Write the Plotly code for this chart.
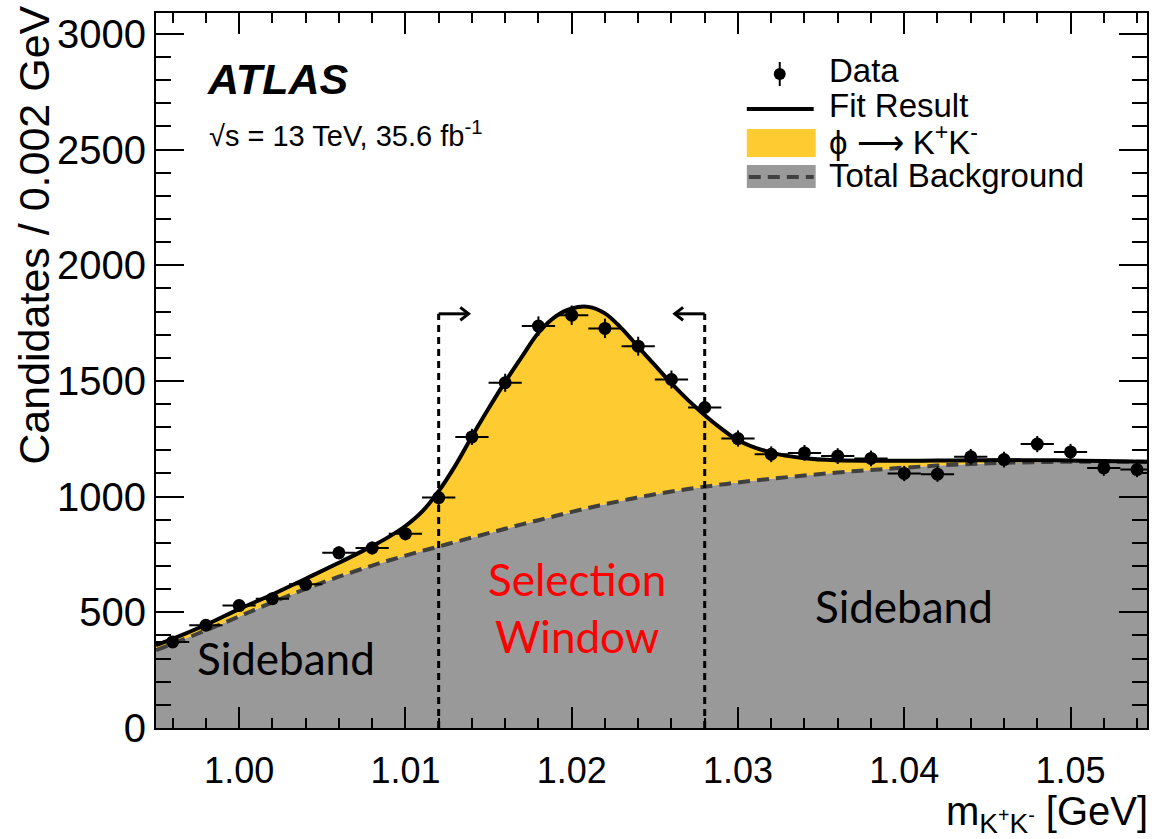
import plotly.graph_objects as go

# ---- measured candidates per 0.002 GeV bin ----
bin_centres = [0.996, 0.998, 1.000, 1.002, 1.004, 1.006, 1.008, 1.010, 1.012, 1.014,
               1.016, 1.018, 1.020, 1.022, 1.024, 1.026, 1.028, 1.030, 1.032, 1.034,
               1.036, 1.038, 1.040, 1.042, 1.044, 1.046, 1.048, 1.050, 1.052, 1.054]
candidates = [372, 444, 529, 559, 621, 757, 778, 840, 996, 1258,
              1492, 1737, 1784, 1727, 1650, 1506, 1385, 1251, 1183, 1189,
              1175, 1165, 1100, 1097, 1172, 1160, 1227, 1193, 1124, 1117]
stat_err = [19, 21, 23, 24, 25, 28, 28, 29, 32, 35,
            39, 42, 42, 42, 41, 39, 37, 35, 34, 34,
            34, 34, 33, 33, 34, 34, 35, 35, 34, 33]
bin_half_width = 0.001

# ---- fit result: total model and background component ----
fit_mass = [0.995, 0.996, 0.998, 1.000, 1.002, 1.004, 1.006, 1.008, 1.009, 1.010,
            1.011, 1.012, 1.013, 1.014, 1.015, 1.016, 1.017, 1.018, 1.019, 1.020,
            1.021, 1.022, 1.023, 1.024, 1.025, 1.026, 1.027, 1.028, 1.029, 1.030,
            1.032, 1.034, 1.036, 1.038, 1.040, 1.042, 1.044, 1.046, 1.048, 1.050,
            1.052, 1.055]
fit_total = [358, 385, 446, 514, 577, 645, 714, 786, 826, 873,
             935, 1024, 1134, 1260, 1381, 1496, 1604, 1708, 1777, 1813,
             1820, 1792, 1727, 1647, 1568, 1489, 1417, 1352, 1294, 1244,
             1190, 1166, 1157, 1155, 1155, 1156, 1157, 1157, 1157, 1156,
             1154, 1150]
fit_background = [336, 364, 422, 482, 543, 601, 654, 702, 724, 745,
                  765, 784, 804, 823, 842, 861, 880, 898, 916, 934,
                  951, 967, 982, 997, 1010, 1022, 1033, 1043, 1052, 1061,
                  1077, 1091, 1104, 1115, 1125, 1134, 1141, 1146, 1149, 1151,
                  1151, 1150]

# ---- selection window ----
window_edges = [1.012, 1.028]
window_marker_top = 1790

x_range = [0.995, 1.0546]
y_range = [0, 3090]
x_tick_vals = [1.00, 1.01, 1.02, 1.03, 1.04, 1.05]
y_tick_vals = [0, 500, 1000, 1500, 2000, 2500, 3000]

GREY = "#999999"
DARK_GREY = "#404040"
YELLOW = "#FECB30"
FONT = "Liberation Sans, Arial, Helvetica, sans-serif"
LABEL_FONT = "Lato, Open Sans, sans-serif"

W, H = 1155, 839
M_L, M_R, M_T, M_B = 156, 6, 13, 111


def px(x):
    return (x - M_L) / (W - M_L - M_R)


def py(y):
    return (H - M_B - y) / (H - M_T - M_B)


fig = go.Figure()

# background component filled down to zero
fig.add_trace(go.Scatter(x=fit_mass, y=fit_background, mode="lines",
                         line=dict(width=0, shape="spline", color=GREY),
                         fill="tozeroy", fillcolor=GREY, showlegend=False,
                         hoverinfo="skip"))
# signal component: band between background and total
fig.add_trace(go.Scatter(x=fit_mass, y=fit_total, mode="lines",
                         line=dict(width=0, shape="spline", color=YELLOW),
                         fill="tonexty", fillcolor=YELLOW, showlegend=False,
                         hoverinfo="skip"))
# background curve
fig.add_trace(go.Scatter(x=fit_mass, y=fit_background, mode="lines",
                         line=dict(width=4, shape="spline", color=DARK_GREY, dash="12px,7px"),
                         showlegend=False))
# total fit
fig.add_trace(go.Scatter(x=fit_mass, y=fit_total, mode="lines",
                         line=dict(width=4, shape="spline", color="black"),
                         showlegend=False))
# data
fig.add_trace(go.Scatter(x=bin_centres, y=candidates, mode="markers",
                         marker=dict(size=13, color="black"),
                         error_y=dict(type="data", array=stat_err, color="black",
                                      thickness=2, width=0),
                         error_x=dict(type="constant", value=bin_half_width, color="black",
                                      thickness=2, width=0),
                         showlegend=False))

shapes = []
# selection window boundaries with arrows pointing inwards
arrow_len = 0.0018
head_dx, head_dy = 0.0005, 28
for edge, direction in zip(window_edges, [1, -1]):
    shapes.append(dict(type="line", xref="x", yref="y", x0=edge, x1=edge,
                       y0=0, y1=window_marker_top,
                       line=dict(color="black", width=3, dash="7px,5px")))
    tip = edge + direction * arrow_len
    shapes.append(dict(type="line", xref="x", yref="y", x0=edge, x1=tip,
                       y0=window_marker_top, y1=window_marker_top,
                       line=dict(color="black", width=3)))
    shapes.append(dict(type="path", xref="x", yref="y",
                       path=f"M{tip - direction * head_dx},{window_marker_top + head_dy} "
                            f"L{tip},{window_marker_top} "
                            f"L{tip - direction * head_dx},{window_marker_top - head_dy}",
                       line=dict(color="black", width=3)))

# legend symbols
shapes += [
    dict(type="circle", xref="paper", yref="paper", x0=px(775), x1=px(787),
         y0=py(68), y1=py(80), fillcolor="black", line=dict(width=0)),
    dict(type="line", xref="paper", yref="paper", x0=px(781), x1=px(781),
         y0=py(62), y1=py(86), line=dict(color="black", width=2)),
    dict(type="line", xref="paper", yref="paper", x0=px(748), x1=px(815),
         y0=py(109), y1=py(109), line=dict(color="black", width=4)),
    dict(type="rect", xref="paper", yref="paper", x0=px(748), x1=px(817),
         y0=py(157), y1=py(129), fillcolor=YELLOW, line=dict(width=0)),
    dict(type="rect", xref="paper", yref="paper", x0=px(748), x1=px(817),
         y0=py(188), y1=py(165), fillcolor=GREY, line=dict(width=0)),
    dict(type="line", xref="paper", yref="paper", x0=px(750), x1=px(815),
         y0=py(177), y1=py(177), line=dict(color=DARK_GREY, width=4, dash="12px,7px")),
]

annotations = []
legend_rows = [("Data", 71), ("Fit Result", 105),
               ("ϕ ⟶ K<sup>+</sup>K<sup>-</sup>", 140), ("Total Background", 175)]
for label, yc in legend_rows:
    annotations.append(dict(text=label, xref="paper", yref="paper", x=px(828), y=py(yc),
                            xanchor="left", yanchor="middle", showarrow=False,
                            font=dict(family=FONT, size=33, color="black")))

annotations += [
    dict(text="<b><i>ATLAS</i></b>", xref="paper", yref="paper", x=px(205), y=py(79),
         xanchor="left", yanchor="middle", showarrow=False,
         font=dict(family=FONT, size=43, color="black")),
    dict(text="√s = 13 TeV, 35.6 fb<sup>-1</sup>", xref="paper", yref="paper",
         x=px(207), y=py(134), xanchor="left", yanchor="middle", showarrow=False,
         font=dict(family=FONT, size=29, color="black")),
    dict(text="Sideband", xref="x", yref="y", x=1.0028, y=303, showarrow=False,
         font=dict(family=LABEL_FONT, size=44, color="black")),
    dict(text="Sideband", xref="x", yref="y", x=1.0400, y=526, showarrow=False,
         font=dict(family=LABEL_FONT, size=44, color="black")),
    dict(text="Selection<br>Window", xref="x", yref="y", x=1.0203, y=520, showarrow=False,
         font=dict(family=LABEL_FONT, size=44, color="red")),
    dict(text="Candidates / 0.002 GeV", xref="paper", yref="paper", x=px(33), y=py(4),
         xanchor="center", yanchor="top", textangle=-90, showarrow=False,
         font=dict(family=FONT, size=43, color="black")),
    dict(text="m<sub>K<sup>+</sup>K<sup>-</sup></sub> [GeV]", xref="paper", yref="paper",
         x=px(1152), y=py(814), xanchor="right", yanchor="middle", showarrow=False,
         font=dict(family=FONT, size=40, color="black")),
]

fig.update_layout(
    width=W, height=H,
    margin=dict(l=M_L, r=M_R, t=M_T, b=M_B, pad=0),
    paper_bgcolor="white", plot_bgcolor="white",
    shapes=shapes, annotations=annotations, showlegend=False,
    xaxis=dict(range=x_range, tickvals=x_tick_vals, tickformat=".2f",
               ticks="inside", ticklen=21, tickwidth=2, tickcolor="black",
               ticklabelstandoff=10,
               minor=dict(dtick=0.002, tick0=1.0, ticks="inside", ticklen=10,
                          tickwidth=2, tickcolor="black"),
               showline=True, linewidth=2, linecolor="black", mirror="ticks",
               showgrid=False, zeroline=False,
               tickfont=dict(family=FONT, size=36, color="black")),
    yaxis=dict(range=y_range, tickvals=y_tick_vals,
               ticks="inside", ticklen=28, tickwidth=2, tickcolor="black",
               minor=dict(dtick=100, tick0=0, ticks="inside", ticklen=15,
                          tickwidth=2, tickcolor="black"),
               showline=True, linewidth=2, linecolor="black", mirror="ticks",
               showgrid=False, zeroline=False,
               tickfont=dict(family=FONT, size=40, color="black")),
)

fig.write_html("out.html")
